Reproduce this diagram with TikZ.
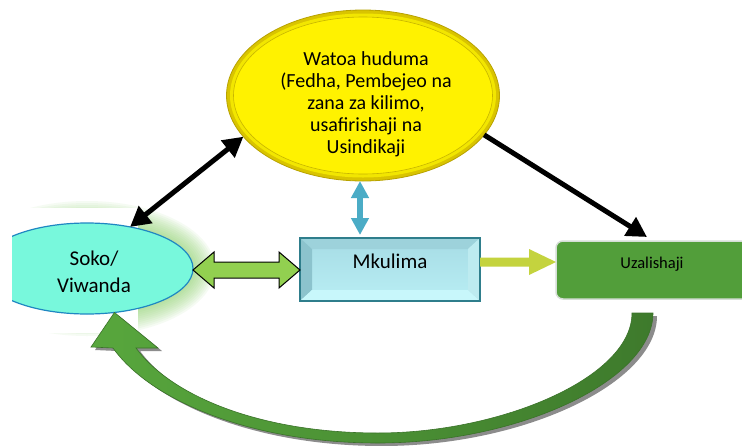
\documentclass[tikz,border=0pt]{standalone}
\usepackage{fontspec}
\setmainfont{Carlito}
\usetikzlibrary{shapes.geometric,arrows.meta,calc}
\definecolor{sokofill}{HTML}{78F8DC}
\definecolor{sokoline}{HTML}{1F87C2}
\definecolor{glowgreen}{HTML}{8CD26A}
\definecolor{goldring}{HTML}{D9C400}
\definecolor{golddark}{HTML}{B8A200}
\definecolor{goldlight}{HTML}{F2E600}
\definecolor{goldline}{HTML}{C7B500}
\definecolor{mkcenterA}{HTML}{A6DCE5}
\definecolor{mkcenterB}{HTML}{B9EEF4}
\definecolor{mktop}{HTML}{9DD2DB}
\definecolor{mkleft}{HTML}{8CC3CD}
\definecolor{mkright}{HTML}{BDEBF0}
\definecolor{mkbottom}{HTML}{C8F7FB}
\definecolor{mkline}{HTML}{2F7E8C}
\definecolor{uzfill}{HTML}{529E3A}
\definecolor{uzline}{HTML}{D5DED6}
\definecolor{tealc}{HTML}{4BACC6}
\definecolor{lgreen}{HTML}{92D050}
\definecolor{ygreen}{HTML}{C4D33E}
\definecolor{arcL}{HTML}{58A73D}
\definecolor{arcR}{HTML}{3E7A2C}
\definecolor{arcline}{HTML}{3A7229}
\definecolor{shadowgray}{HTML}{8C8C8C}
\begin{document}
\begin{tikzpicture}[x=1pt,y=-1pt,
  blackarr/.style={line width=5pt, draw=black},
  bigtxt/.style={font=\fontsize{21}{27}\selectfont, inner sep=0, align=center},
  shapebox/.style={inner sep=0, outer sep=0}]
\useasboundingbox (0,0) rectangle (742,445);
\fill[white] (0,0) rectangle (742,445);

% glow round Soko, partly hidden by a white panel
\begin{scope}
\clip (12,180) rectangle (260,360);
\foreach \e in {2,4,...,22} {
  \fill[glowgreen, opacity=0.08] (87,268.5) ellipse [x radius={106pt+\e pt}, y radius={45.5pt+\e pt}];
}
\end{scope}
\fill[white] (12,208) rectangle (138,333);

% Soko ellipse
\begin{scope}
\clip (12,200) rectangle (260,340);
\node[shapebox, ellipse, minimum width=212pt, minimum height=91pt, fill=sokofill, draw=sokoline, line width=1.2pt] (soko) at (87,268.5) {};
\end{scope}
\node[bigtxt] (sokotxt) at (94,272) {Soko/\\Viwanda};

% shadow of curved arrow
\fill[shadowgray, transform canvas={xshift=4pt,yshift=-3pt}]
  (632,313) .. controls (632,378) and (500,433) .. (378,433)
  .. controls (262,433) and (172,397) .. (136,348) -- (158,348) -- (115,313) -- (91,347) -- (113,348)
  .. controls (150,400) and (250,443) .. (378,443)
  .. controls (520,443) and (653,380) .. (653,313) -- cycle;

% yellow ellipse
\node[shapebox, ellipse, minimum width=273pt, minimum height=171pt, fill=goldring, draw=golddark, line width=0.8pt] (yel) at (363,95.5) {};
\fill[goldlight] (yel.center) ellipse [x radius=133pt, y radius=82pt];
\filldraw[fill=yellow, draw=goldline, line width=0.6pt] (yel.center) ellipse [x radius=129.5pt, y radius=78.5pt];
\node[font=\fontsize{20}{22}\selectfont, align=center, inner sep=0] (yeltxt) at (366,104)
  {Watoa huduma\\(Fedha, Pembejeo na\\zana za kilimo,\\usafirishaji na\\Usindikaji};

% Mkulima bevel box
\node[shapebox, rectangle, minimum width=180pt, minimum height=63pt] (mk) at (390,269.5) {};
\shade[top color=mkcenterA, bottom color=mkcenterB] (mk.north west) rectangle (mk.south east);
\fill[mktop] (mk.north west) -- (mk.north east) -- ($(mk.north east)+(-12,11)$) -- ($(mk.north west)+(12,11)$) -- cycle;
\fill[mkleft] (mk.north west) -- ($(mk.north west)+(12,11)$) -- ($(mk.south west)+(12,-11)$) -- (mk.south west) -- cycle;
\fill[mkbottom] (mk.south west) -- ($(mk.south west)+(12,-11)$) -- ($(mk.south east)+(-12,-11)$) -- (mk.south east) -- cycle;
\fill[mkright] (mk.north east) -- ($(mk.north east)+(-12,11)$) -- ($(mk.south east)+(-12,-11)$) -- (mk.south east) -- cycle;
\draw[mkline, line width=1.6pt] (mk.north west) rectangle (mk.south east);
\node[font=\fontsize{21}{26}\selectfont, anchor=base, inner sep=0] (mktxt) at (390,268.5) {Mkulima};

% Uzalishaji box (runs past the right edge)
\node[shapebox, rectangle, rounded corners=7pt, minimum width=214pt, minimum height=58pt, fill=uzfill, draw=uzline, line width=1.5pt] (uz) at (663,270) {};
\node[font=\fontsize{16.5}{20}\selectfont, anchor=base, inner sep=0] (uztxt) at (652,268) {Uzalishaji};

% curved arrow body
\coordinate (cs) at ([xshift=-20.5pt,yshift=-14pt]uz.south);
\coordinate (ct) at (soko.302);
\shadedraw[left color=arcL, right color=arcR, draw=arcline, line width=0.6pt]
  ($(cs)+(-10.5,0)$) .. controls (632,378) and (500,433) .. (378,433)
  .. controls (262,433) and (172,397) .. (136,348) -- (158,348) -- (ct) -- (91,347) -- (113,348)
  .. controls (150,400) and (250,443) .. (378,443)
  .. controls (520,443) and (653,380) .. ($(cs)+(10.5,0)$) -- cycle;

% black arrows
\draw[blackarr, {Triangle[length=20pt,width=21pt]}-{Triangle[length=20pt,width=21pt]}] (yel.199) -- (soko.44);
\draw[blackarr, -{Triangle[length=20pt,width=21pt]}] (yel.342) -- ([xshift=-16pt,yshift=4pt]uz.north);

% teal double arrow
\draw[tealc, line width=6pt, {Triangle[length=17pt,width=17pt]}-{Triangle[length=17pt,width=17pt]}]
  ([xshift=-3pt]yel.south) -- ([xshift=-30pt,yshift=3pt]mk.north);

% green double block arrow
\coordinate (ga1) at ([yshift=-1.5pt]soko.east);
\coordinate (ga2) at (ga1 -| mk.west);
\filldraw[fill=lgreen, draw=black, line width=1pt, line join=miter]
  (ga1) -- ($(ga1)+(21,-18)$) -- ($(ga1)+(21,-8)$) -- ($(ga2)+(-21,-8)$) -- ($(ga2)+(-21,-18)$)
  -- (ga2) -- ($(ga2)+(-21,18)$) -- ($(ga2)+(-21,8)$) -- ($(ga1)+(21,8)$) -- ($(ga1)+(21,18)$) -- cycle;

% yellow-green arrow
\coordinate (yg1) at ([yshift=7.5pt]mk.east);
\coordinate (yg2) at (yg1 -| uz.west);
\fill[ygreen] ($(yg1)+(0,-4.5)$) -- ($(yg2)+(-27,-4.5)$) -- ($(yg2)+(-27,-13)$) -- (yg2)
  -- ($(yg2)+(-27,13)$) -- ($(yg2)+(-27,4.5)$) -- ($(yg1)+(0,4.5)$) -- cycle;
\end{tikzpicture}
\end{document}
